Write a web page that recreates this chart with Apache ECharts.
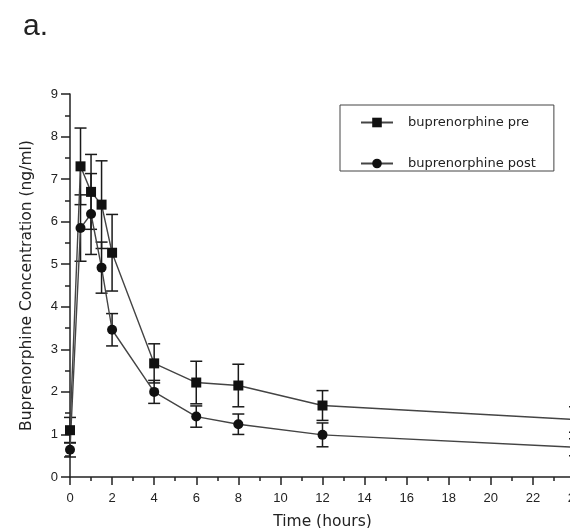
<!DOCTYPE html>
<html>
<head>
<meta charset="utf-8">
<script src="https://cdn.jsdelivr.net/npm/echarts@6/dist/echarts.min.js"></script>
<style>
html,body{margin:0;padding:0;background:#fff;}
#chart{width:570px;height:528px;}
</style>
</head>
<body>
<div id="chart"></div>
<script>
const times = [0, 0.5, 1, 1.5, 2, 4, 6, 8, 12, 24];
const preMean = [1.1, 7.3, 6.7, 6.4, 5.27, 2.67, 2.22, 2.15, 1.68, 1.35];
const preSD = [0.3, 0.9, 0.88, 1.03, 0.9, 0.46, 0.5, 0.5, 0.35, 0.3];
const postMean = [0.64, 5.85, 6.18, 4.92, 3.46, 2.0, 1.42, 1.24, 0.99, 0.7];
const postSD = [0.17, 0.78, 0.95, 0.6, 0.38, 0.27, 0.25, 0.24, 0.28, 0.2];
const seriesNames = ['buprenorphine pre', 'buprenorphine post'];
const xTicks = [0, 2, 4, 6, 8, 10, 12, 14, 16, 18, 20, 22, 24];
const yTicks = [0, 1, 2, 3, 4, 5, 6, 7, 8, 9];

const chart = echarts.init(document.getElementById('chart'), null, {renderer: 'canvas'});

function pairs(xs, ys) { return xs.map((x, i) => [x, ys[i]]); }
function errData(xs, m, s) { return xs.map((x, i) => [x, m[i] - s[i], m[i] + s[i]]); }

function errRender(params, api) {
  const x = api.value(0);
  const lo = api.coord([x, api.value(1)]);
  const hi = api.coord([x, api.value(2)]);
  const hw = 6;
  const style = {stroke: '#1a1a1a', lineWidth: 1.5, fill: null};
  return {
    type: 'group',
    children: [
      {type: 'line', shape: {x1: lo[0], y1: lo[1], x2: hi[0], y2: hi[1]}, style: style},
      {type: 'line', shape: {x1: lo[0] - hw, y1: lo[1], x2: lo[0] + hw, y2: lo[1]}, style: style},
      {type: 'line', shape: {x1: hi[0] - hw, y1: hi[1], x2: hi[0] + hw, y2: hi[1]}, style: style}
    ]
  };
}

const tickFont = {fontFamily: 'Liberation Sans, Arial, sans-serif', fontSize: 13, color: '#222'};

chart.setOption({
  animation: false,
  backgroundColor: '#fff',
  grid: {left: 70, top: 94, bottom: 51, right: -5, containLabel: false, outerBoundsMode: 'none'},
  graphic: [{
    type: 'text', left: 23, top: 12,
    style: {text: 'a.', font: '30px "Liberation Sans", Arial, sans-serif', fill: '#222'}
  }],
  legend: {
    orient: 'vertical',
    left: 340, top: 105,
    padding: [11, 18, 1, 20],
    itemWidth: 32, itemHeight: 12, itemGap: 28,
    borderColor: '#444', borderWidth: 1,
    textStyle: {fontFamily: 'DejaVu Sans, sans-serif', fontSize: 13, color: '#222', lineHeight: 12, padding: [0, 0, 0, 10]},
    data: seriesNames
  },
  xAxis: {
    type: 'value', min: 0, max: 24, interval: 2,
    name: 'Time (hours)', nameLocation: 'middle', nameGap: 37,
    nameTextStyle: {fontFamily: 'DejaVu Sans, sans-serif', fontSize: 15.5, color: '#222'},
    axisLine: {show: true, lineStyle: {color: '#222', width: 1.5}},
    axisTick: {show: true, length: 8, lineStyle: {color: '#222', width: 1.5}},
    minorTick: {show: true, splitNumber: 2, length: 4, lineStyle: {color: '#222', width: 1.5}},
    axisLabel: Object.assign({margin: 15, formatter: v => xTicks.includes(v) ? String(v) : ''}, tickFont),
    splitLine: {show: false}
  },
  yAxis: {
    type: 'value', min: 0, max: 9, interval: 1,
    name: 'Buprenorphine Concentration (ng/ml)', nameLocation: 'middle', nameGap: 35,
    nameTextStyle: {fontFamily: 'DejaVu Sans, sans-serif', fontSize: 15.5, color: '#222'},
    axisLine: {show: true, lineStyle: {color: '#222', width: 1.5}},
    axisTick: {show: true, length: 9, lineStyle: {color: '#222', width: 1.5}},
    minorTick: {show: true, splitNumber: 2, length: 5, lineStyle: {color: '#222', width: 1.5}},
    axisLabel: Object.assign({margin: 12, formatter: v => yTicks.includes(v) ? String(v) : ''}, tickFont),
    splitLine: {show: false}
  },
  series: [
    {
      name: seriesNames[0], type: 'line', data: pairs(times, preMean),
      symbol: 'rect', symbolSize: 10, showAllSymbol: true,
      itemStyle: {color: '#111'}, lineStyle: {color: '#444', width: 1.4},
      z: 3
    },
    {
      name: seriesNames[1], type: 'line', data: pairs(times, postMean),
      symbol: 'circle', symbolSize: 10, showAllSymbol: true,
      itemStyle: {color: '#111'}, lineStyle: {color: '#444', width: 1.4},
      z: 3
    },
    {type: 'custom', data: errData(times, preMean, preSD), renderItem: errRender, z: 2, silent: true},
    {type: 'custom', data: errData(times, postMean, postSD), renderItem: errRender, z: 2, silent: true}
  ]
});
</script>
</body>
</html>
